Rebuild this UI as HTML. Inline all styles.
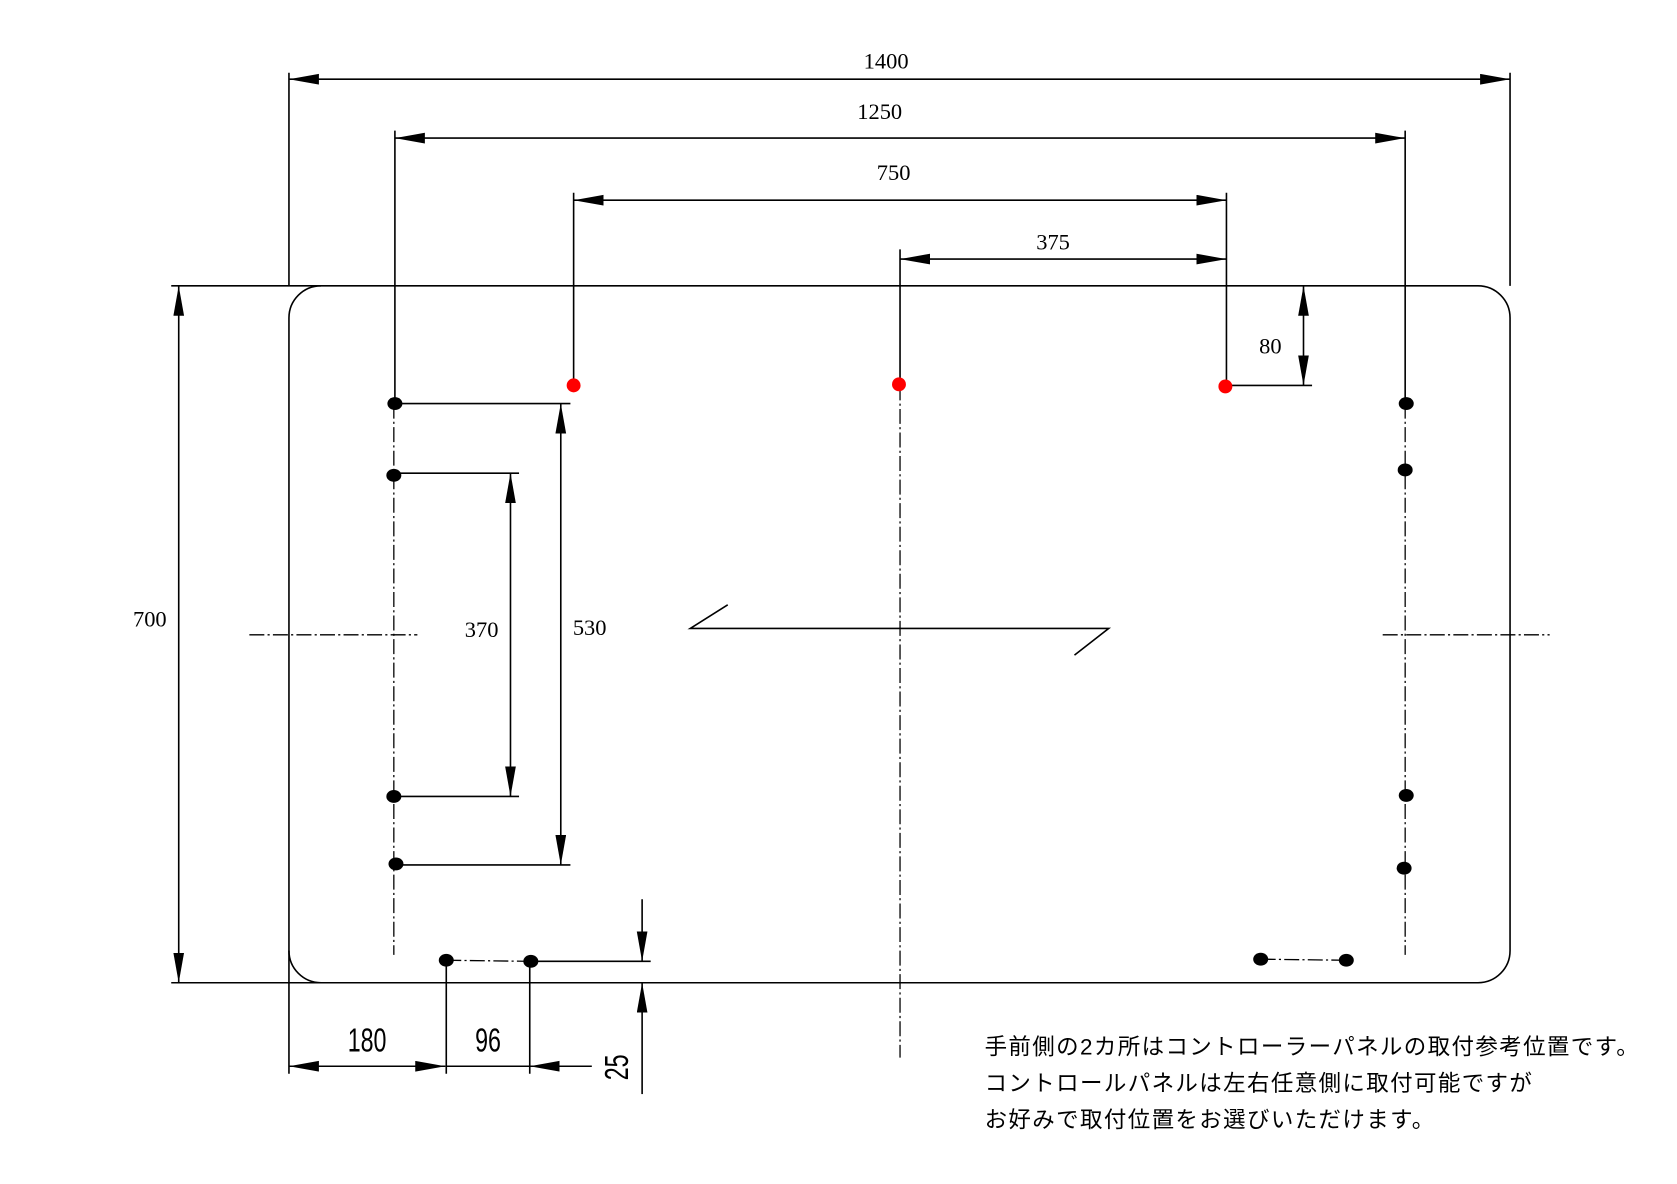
<!DOCTYPE html>
<html><head><meta charset="utf-8"><style>
html,body{margin:0;padding:0;background:#fff;width:1677px;height:1184px;overflow:hidden}
svg{display:block}
.l{stroke:#000;stroke-width:1.5;fill:none}
.dd{stroke:#000;stroke-width:1.2;fill:none;stroke-dasharray:14 3 2 3}
.t{font-family:"Liberation Serif",serif;font-size:21px;fill:#000}
.n{font-family:"Liberation Sans",sans-serif;font-size:31px;fill:#000}
.j{font-family:"Liberation Sans","Noto Sans CJK JP",sans-serif;font-size:21px;letter-spacing:1.3px;fill:#000}
</style></head><body>
<svg width="1677" height="1184" viewBox="0 0 1567 1106" preserveAspectRatio="none" xmlns="http://www.w3.org/2000/svg">
<defs>
<marker id="a" markerUnits="userSpaceOnUse" markerWidth="30" markerHeight="12" refX="28" refY="5" orient="auto-start-reverse"><path d="M0,0 L28,5 L0,10 Z" fill="#000"/></marker>
</defs>
<path class="l" d="M160,267 H1381 A30,30 0 0 1 1411,297 V888 A30,30 0 0 1 1381,918 H160"/>
<path class="l" d="M300,267 A30,30 0 0 0 270,297 V888 A30,30 0 0 0 300,918"/>
<path class="l" d="M270,68 V267 M1411,68 V267 M270,888 V1003 M369,122 V377 M1313,122 V377 M536,180 V360 M1146,180 V361 M841,233 V360"/>
<line class="l" x1="270" y1="74" x2="1411" y2="74" marker-start="url(#a)" marker-end="url(#a)"/>
<text class="t" x="828" y="64" text-anchor="middle">1400</text>
<line class="l" x1="369" y1="129" x2="1313" y2="129" marker-start="url(#a)" marker-end="url(#a)"/>
<text class="t" x="822" y="111" text-anchor="middle">1250</text>
<line class="l" x1="536" y1="187" x2="1146" y2="187" marker-start="url(#a)" marker-end="url(#a)"/>
<text class="t" x="835" y="168" text-anchor="middle">750</text>
<line class="l" x1="841" y1="242" x2="1146" y2="242" marker-start="url(#a)" marker-end="url(#a)"/>
<text class="t" x="984" y="233" text-anchor="middle">375</text>
<line class="l" x1="1150" y1="360" x2="1226" y2="360"/>
<line class="l" x1="1218" y1="267" x2="1218" y2="360" marker-start="url(#a)" marker-end="url(#a)"/>
<text class="t" x="1187" y="330" text-anchor="middle">80</text>
<line class="l" x1="167" y1="267" x2="167" y2="918" marker-start="url(#a)" marker-end="url(#a)"/>
<text class="t" x="140" y="585" text-anchor="middle">700</text>
<line class="dd" x1="368" y1="377" x2="368" y2="892"/>
<path class="l" d="M368,377 H533 M368,442 H485 M368,744 H485 M368,808 H533"/>
<line class="l" x1="477" y1="442" x2="477" y2="744" marker-start="url(#a)" marker-end="url(#a)"/>
<text class="t" x="450" y="595" text-anchor="middle">370</text>
<line class="l" x1="524" y1="377" x2="524" y2="808" marker-start="url(#a)" marker-end="url(#a)"/>
<text class="t" x="551" y="593" text-anchor="middle">530</text>
<line class="dd" x1="1313" y1="377" x2="1313" y2="892"/>
<line class="dd" x1="233" y1="593" x2="390" y2="593"/>
<line class="dd" x1="1292" y1="593" x2="1448" y2="593"/>
<line class="dd" x1="841" y1="360" x2="841" y2="988"/>
<path class="l" d="M680,565 L645,587 H1036 L1004,612"/>
<line class="dd" x1="417" y1="897" x2="496" y2="898"/>
<line class="dd" x1="1178" y1="896" x2="1258" y2="897"/>
<path class="l" d="M496,898 H608 M417,897 V1003 M495,898 V1003 M416,996 H495"/>
<line class="l" x1="270" y1="996" x2="416" y2="996" marker-start="url(#a)" marker-end="url(#a)"/>
<line class="l" x1="553" y1="996" x2="495" y2="996" marker-end="url(#a)"/>
<line class="l" x1="600" y1="840" x2="600" y2="898" marker-end="url(#a)"/>
<line class="l" x1="600" y1="1022" x2="600" y2="918" marker-end="url(#a)"/>
<text class="n" x="343" y="982" text-anchor="middle" transform="translate(343,0) scale(0.7,1) translate(-343,0)">180</text>
<text class="n" x="456" y="982" text-anchor="middle" transform="translate(456,0) scale(0.7,1) translate(-456,0)">96</text>
<text class="n" x="0" y="0" text-anchor="middle" transform="translate(587,997) rotate(-90) scale(0.7,1)">25</text>
<g fill="#000">
<ellipse cx="369" cy="377" rx="7" ry="6"/><ellipse cx="368" cy="444" rx="7" ry="6"/>
<ellipse cx="368" cy="744" rx="7" ry="6"/><ellipse cx="370" cy="807" rx="7" ry="6"/>
<ellipse cx="1314" cy="377" rx="7" ry="6"/><ellipse cx="1313" cy="439" rx="7" ry="6"/>
<ellipse cx="1314" cy="743" rx="7" ry="6"/><ellipse cx="1312" cy="811" rx="7" ry="6"/>
<ellipse cx="417" cy="897" rx="7" ry="6"/><ellipse cx="496" cy="898" rx="7" ry="6"/>
<ellipse cx="1178" cy="896" rx="7" ry="6"/><ellipse cx="1258" cy="897" rx="7" ry="6"/>
</g>
<g fill="#f00">
<circle cx="536" cy="360" r="6.5"/><circle cx="840" cy="359" r="6.5"/><circle cx="1145" cy="361" r="6.5"/>
</g>
<text class="j" x="920" y="985">手前側の2カ所はコントローラーパネルの取付参考位置です。</text>
<text class="j" x="920" y="1019">コントロールパネルは左右任意側に取付可能ですが</text>
<text class="j" x="920" y="1053">お好みで取付位置をお選びいただけます。</text>
</svg>
</body></html>
